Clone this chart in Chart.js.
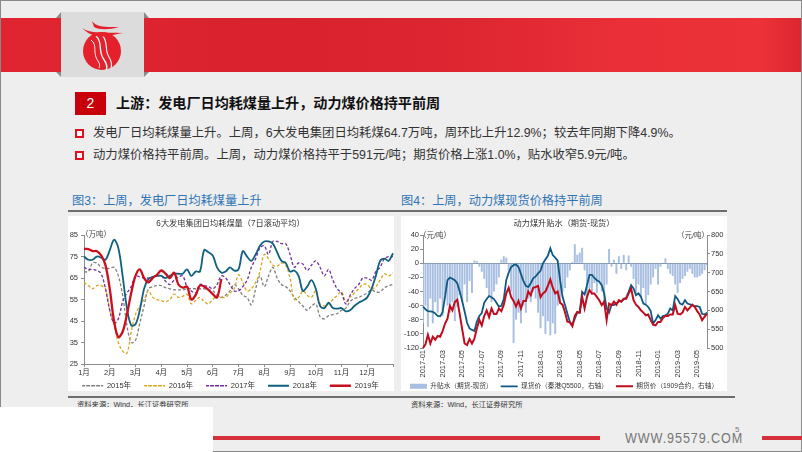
<!DOCTYPE html>
<html lang="zh">
<head>
<meta charset="utf-8">
<title>上游：发电厂日均耗煤量上升</title>
<script src="https://cdn.jsdelivr.net/npm/chart.js@4"></script>
<style>
    html, body { margin: 0; padding: 0; }
    body { width: 802px; height: 452px; overflow: hidden; position: relative; background: #eeeeee; font-family: "Liberation Sans", "Noto Sans CJK SC", sans-serif; }
    .abs { position: absolute; white-space: nowrap; }
    #frame { left: 0; top: 0; width: 800px; height: 450px; border: 1px solid #8a8a8a; }
    #banner { left: 1px; top: 18px; width: 800px; height: 54px; background: linear-gradient(90deg, #e02530 0%, #d9222e 35%, #dc2530 55%, #ea2f38 78%, #ec3238 95%, #dd2530 100%); }
    #logoBox { left: 61px; top: 12px; width: 83px; height: 65px; background: #dcdcdc; }
    #numBox { left: 75px; top: 92px; width: 31px; height: 23px; background: #c8000b; color: #fff; font-size: 14px; line-height: 23px; text-align: center; }
    #heading { left: 116px; top: 93px; font-size: 14.1px; line-height: 20px; font-weight: bold; color: #111; }
    .bullet { left: 75px; width: 5px; height: 5px; border: 2px solid #e2101f; background: #fff; }
    .line1 { left: 93px; font-size: 12.35px; line-height: 18px; color: #333; }
    .caption { font-size: 12.2px; line-height: 16px; color: #2e75b6; top: 193px; }
    .panel { top: 216px; height: 175px; width: 326px; background: #fff; }
    .rule { height: 2px; background: #6e6e6e; }
    .source { font-size: 7.3px; line-height: 10px; color: #333; top: 400px; }
    .unit { font-size: 7.5px; line-height: 10px; color: #444; }
    canvas { display: block; }
</style>
</head>
<body>
<div class="abs" id="frame"></div>
<div class="abs" id="banner"></div>
<svg class="abs" style="left:55px;top:11px" width="95" height="67">
    <polygon points="1,7 6,1 6,7" fill="#8a8a8a"/><polygon points="89,1 94,7 89,7" fill="#8a8a8a"/>
    <polygon points="1,61 6,61 6,66" fill="#8a8a8a"/><polygon points="89,61 94,61 89,66" fill="#8a8a8a"/>
</svg>
<div class="abs" id="logoBox"></div>
<svg class="abs" style="left:61px;top:12px" width="83" height="65">
    <circle cx="41" cy="39" r="19" fill="#e3202b"/>
    <path d="M35 24 C42 30 37 38 42 46 C46 52 47 55 45 58" stroke="#eee" stroke-width="1.4" fill="none"/>
    <path d="M41 23 C48 30 43 38 48 45 C51 50 51 53 50 56" stroke="#eee" stroke-width="1.2" fill="none"/>
    <path d="M30 28 C37 33 31 41 37 49 C39 52 39 54 38 56" stroke="#eee" stroke-width="1" fill="none"/>
    <path d="M21 16 C30 22 42 20 62 21 C50 23 42 26 36 24 C30 23 25 20 21 16 Z" fill="#e3202b"/>
    <path d="M31 9 C36 16 46 15 58 15 C48 18 38 18 33 15 Z" fill="#e3202b"/>
</svg>

<div class="abs" id="numBox">2</div>
<div class="abs" id="heading">上游：发电厂日均耗煤量上升，动力煤价格持平前周</div>
<div class="abs bullet" style="top:129px"></div>
<div class="abs line1" style="top:124px">发电厂日均耗煤量上升。上周，6大发电集团日均耗煤64.7万吨，周环比上升12.9%；较去年同期下降4.9%。</div>
<div class="abs bullet" style="top:151px"></div>
<div class="abs line1" style="top:146px">动力煤价格持平前周。上周，动力煤价格持平于591元/吨；期货价格上涨1.0%，贴水收窄5.9元/吨。</div>

<div class="abs caption" style="left:72px">图3：上周，发电厂日均耗煤量上升</div>
<div class="abs caption" style="left:401px">图4：上周，动力煤现货价格持平前周</div>
<div class="abs rule" style="left:68px;top:210px;width:659px"></div>

<div class="abs panel" style="left:68px"></div>
<div class="abs panel" style="left:401px"></div>
<div class="abs" style="left:68px;top:216px"><canvas id="coalChart" width="334" height="175" style="width:334px;height:175px"></canvas></div>
<div class="abs" style="left:401px;top:216px"><canvas id="basisChart" width="326" height="175" style="width:326px;height:175px"></canvas></div>
<div class="abs unit" style="left:81px;top:230px">（万吨）</div>
<div class="abs unit" style="left:419px;top:231px">（元/吨）</div>
<div class="abs unit" style="left:677px;top:231px">（元/吨）</div>

<div class="abs rule" style="left:68px;top:396px;width:667px"></div>
<div class="abs source" style="left:77px">资料来源：Wind，长江证券研究所</div>
<div class="abs source" style="left:411px">资料来源：Wind，长江证券研究所</div>

<div class="abs" style="left:0;top:407px;width:213px;height:45px;background:#fff"></div>
<div class="abs" style="left:213px;top:436px;width:387px;height:4px;background:#d5303c"></div>
<div class="abs" style="left:762px;top:436px;width:40px;height:4px;background:#d5303c"></div>
<div class="abs" style="left:625px;top:430px;font-size:14px;line-height:16px;letter-spacing:1px;color:#777;transform:scaleX(0.9);transform-origin:left">WWW.95579.COM</div>
<div class="abs" style="left:735px;top:425px;font-size:8px;line-height:10px;color:#777">5</div>

<script>
// 图3 6大发电集团日均耗煤量，每月取6个点
const months = ['1月', '2月', '3月', '4月', '5月', '6月', '7月', '8月', '9月', '10月', '11月', '12月'];
const coalTicks = [25, 35, 45, 55, 65, 75, 85];

const coal2015 = [68, 68, 72, 72, 70, 69.5, 69.5, 70, 66, 57, 43, 35, 36, 44, 52, 60, 61, 61.5, 61.5, 60.5, 60, 59.5, 59.5, 59.5, 60, 60, 60, 60, 60, 59.5, 59, 57, 56, 57, 59, 62,
    60, 57, 56, 52.5, 60, 66, 61, 66, 70, 65, 62, 61, 59, 56, 54, 52, 50, 52, 53, 47, 46, 47.5, 48, 48.5, 50, 51, 54, 55.5, 56, 57, 58, 59.5, 58.5, 58.5, 60.5, 61.5, 62];
const coal2016 = [63, 61.5, 60, 61.5, 61.5, 60, 50, 43, 35, 31, 30, 40, 48, 52, 55, 59, 56, 55, 54.5, 54, 55, 57.5, 56, 56.5, 57.5, 53, 54.5, 56, 54, 53, 55, 56.5, 56, 56, 58, 60,
    66.5, 63, 59, 60, 63, 68, 76, 74, 71, 70.5, 72, 71, 65, 55, 56, 59, 57, 56, 59, 53, 52, 53, 55, 57, 58.5, 54, 56, 58, 60, 62, 62, 60, 61, 64, 67, 66, 67.5];
const coal2017 = [70, 69, 69, 68.5, 67, 60, 50, 44, 46, 54, 58, 61, 66, 65.5, 65, 65, 65.5, 66, 66, 63.5, 62, 64, 65.5, 66, 61, 59, 58, 62, 61.5, 61, 60, 62, 66, 65, 62, 59,
    59, 61, 64, 70, 74, 79, 80, 76, 82, 82, 81, 81, 76, 70, 72, 71.5, 68.5, 71, 73, 70, 66, 69, 64, 60, 58, 53, 57, 60, 62, 65, 65, 64, 68, 70, 74, 75, 75];
const coal2018 = [75, 73.5, 73.5, 75, 74.5, 73.5, 78, 82.8, 79, 66, 51, 43, 43.5, 50, 60, 64.5, 65.5, 66, 66, 65, 66, 67, 67, 67, 69, 66, 68, 68, 78, 77, 75.5, 70, 67.5, 68, 70, 68.5,
    69, 77.5, 75, 73, 76, 80, 82, 82, 81, 77, 73, 72, 68, 68.5, 66, 59, 61, 64, 60, 52, 51, 53.5, 51, 50.8, 51, 49.5, 50, 52, 53.5, 54.5, 56, 60, 66, 73, 74, 73, 76.5];
const coal2019 = [78.5, 78.5, 77.5, 77.5, 75.5, 71, 60, 45, 37.5, 40, 48, 58, 66, 69, 65, 63, 65, 66.5, 68.5, 67, 65, 67.5, 62, 60.5, 61, 55, 57, 61.5, 61, 59.5, 57.5, 56, 64.5];

// 图4 动力煤升贴水，每月取4个点
const basisMonths = ['2017-01', '2017-03', '2017-05', '2017-07', '2017-09', '2017-11', '2018-01', '2018-03', '2018-05', '2018-07', '2018-09', '2018-11', '2019-01', '2019-03', '2019-05'];

const basis = [-85, -60, -90, -50, -85, -55, -70, -50, -75, -45, -60, -70, -55, -82, -62, -45, -55, -30, -55, -25, -42, 4, 3, -5, -12, -22, -35, -48, -55, -40, -30, -20, 5, 10, 8, -10, -40,
    -113, -80, -70, -85, -60, -70, -50, -55, -40, -50, -70, -92, -75, -100, -82, -102, -85, -100, -60, -55, -40, -35, -20, -10, 2, 27, 12, 15, 22, -10, -48, -35, -45, -28, -42, -25, -40, -60, -30,
    20, -5, 5, -15, 10, -8, 12, -10, 11, -5, -22, -42, -30, -48, -35, -58, -45, -30, -20, -8, -30, -5, 1, 7, -8, -15, -18, -30, -42, -28, -22, -18, -12, -8, -15, -20, -20, -18, -15, -10, -3];
const spot = [610, 603, 598, 597, 596, 592, 585, 584, 595, 636, 680, 687, 684, 680, 672, 650, 625, 597, 567, 552, 548, 545, 570, 585, 593, 620, 630, 638, 635, 630, 620, 610, 612, 630, 680, 700, 715,
    720, 722, 715, 697, 678, 665, 662, 672, 685, 690, 698, 705, 725, 735, 745, 765, 747, 740, 732, 680, 636, 614, 591, 569, 562, 578, 594, 594, 649, 642, 667, 694, 694, 686, 680, 676, 667, 645, 605,
    594, 614, 614, 618, 624, 624, 630, 633, 649, 667, 658, 640, 645, 636, 618, 615, 609, 598, 565, 574, 587, 578, 585, 587, 591, 605, 600, 638, 630, 618, 615, 627, 618, 616, 614, 611, 611, 609, 591, 589, 594];
const futures = [500, 510, 535, 512, 530, 522, 532, 530, 545, 565, 578, 612, 600, 622, 628, 590, 550, 512, 508, 524, 512, 525, 552, 575, 560, 585, 600, 582, 605, 590, 590, 605, 598, 615, 645, 660, 635,
    625, 610, 625, 605, 625, 625, 650, 640, 660, 662, 665, 635, 645, 650, 665, 682, 660, 645, 650, 620, 615, 595, 570, 568, 558, 585, 596, 594, 636, 605, 636, 654, 645, 645, 636, 627, 614, 623, 574,
    618, 614, 623, 615, 627, 623, 631, 631, 645, 658, 627, 615, 609, 600, 594, 587, 589, 574, 562, 560, 569, 569, 580, 585, 585, 589, 589, 614, 591, 589, 594, 609, 600, 607, 615, 609, 598, 589, 574, 583, 591];

const coalLabels = [];
for (let i = 0; i <= 72; i++) {
    coalLabels.push(i % 6 === 0 && i < 72 ? months[i / 6] : '');
}
const basisLabels = basis.map((v, i) => (i % 8 === 0 ? basisMonths[i / 8] : ''));

const fontMain = '"Liberation Sans", "Noto Sans CJK SC", sans-serif';
const axisColor = '#8c8c8c';
const textColor = '#333';

function lineSet(label, data, color, width, dash, order, yAxisID) {
    return {
        type: 'line', label, data, borderColor: color, backgroundColor: color, borderWidth: width,
        borderDash: dash, pointRadius: 0, tension: yAxisID ? 0 : 0.35, order, yAxisID: yAxisID || 'y', spanGaps: false
    };
}

function legendItems(chart) {
    return chart.data.datasets.map((d, i) => ({
        text: d.label,
        fillStyle: 'transparent',
        strokeStyle: d.type === 'bar' ? d.backgroundColor : d.borderColor,
        lineWidth: d.type === 'bar' ? 5 : d.borderWidth,
        lineDash: d.borderDash || [],
        fontColor: textColor,
        datasetIndex: i
    }));
}

// labels.padding 同时控制图例项间距和上下留白，这里把上下留白去掉
const tightLegend = {
    id: 'tightLegend',
    beforeLayout(chart) {
        const legend = chart.legend;
        if (legend.tightDone) return;
        legend.tightDone = true;
        const fit = legend.fit;
        legend.fit = function () {
            fit.call(this);
            this.height = chart.options.plugins.tightLegend.height;
        };
    },
    afterLayout(chart) {
        chart.legend.top -= chart.options.plugins.legend.labels.padding;
    }
};

new Chart(document.getElementById('coalChart'), {
    type: 'line',
    data: {
        labels: coalLabels,
        datasets: [
            lineSet('2015年', coal2015, '#7f7f7f', 1.3, [3, 2], 5),
            lineSet('2016年', coal2016, '#dba61f', 1.3, [3, 2], 4),
            lineSet('2017年', coal2017, '#7030a0', 1.3, [3, 2], 3),
            lineSet('2018年', coal2018, '#12607f', 1.8, [], 2),
            lineSet('2019年', coal2019, '#c8101f', 2.3, [], 1)
        ]
    },
    plugins: [tightLegend],
    options: {
        responsive: false,
        animation: false,
        layout: { padding: { right: 9 } },
        plugins: {
            tooltip: { enabled: false },
            tightLegend: { height: 9 },
            title: { display: true, text: '6大发电集团日均耗煤量（7日滚动平均）', color: '#333', font: { family: fontMain, size: 8.2, weight: 'normal' }, padding: { top: 3, bottom: 6.2 } },
            legend: {
                position: 'bottom',
                labels: { boxWidth: 21, boxHeight: 0, padding: 13, font: { family: fontMain, size: 7.5 }, color: textColor, generateLabels: legendItems }
            }
        },
        scales: {
            x: {
                offset: false,
                border: { color: axisColor },
                afterFit: (s) => { s.height = 18; },
                grid: { drawOnChartArea: false, tickLength: 3, tickColor: (c) => (c.index % 6 === 0 ? axisColor : 'transparent') },
                ticks: { autoSkip: false, maxRotation: 0, minRotation: 0, font: { family: fontMain, size: 7.5 }, color: textColor, padding: 1 }
            },
            y: {
                min: 25, max: 85,
                border: { color: axisColor },
                afterFit: (s) => { s.width = 16; },
                afterBuildTicks: (s) => { s.ticks = coalTicks.map((v) => ({ value: v })); },
                grid: { drawOnChartArea: false, tickLength: 3, tickColor: axisColor },
                ticks: { font: { family: fontMain, size: 7.5 }, color: textColor, padding: 3 }
            }
        }
    }
});

new Chart(document.getElementById('basisChart'), {
    data: {
        labels: basisLabels,
        datasets: [
            { type: 'bar', label: '升贴水（期货-现货）', data: basis, backgroundColor: '#a9bfe2', barPercentage: 0.8, categoryPercentage: 1, order: 3, yAxisID: 'y' },
            lineSet('现货价（秦港Q5500，右轴）', spot, '#0f5a85', 1.8, [], 2, 'y1'),
            lineSet('期货价（1909合约，右轴）', futures, '#c00d1e', 2, [], 1, 'y1')
        ]
    },
    plugins: [tightLegend],
    options: {
        responsive: false,
        animation: false,
        plugins: {
            tooltip: { enabled: false },
            tightLegend: { height: 8 },
            title: { display: true, text: '动力煤升贴水（期货-现货）', color: '#333', font: { family: fontMain, size: 8.2, weight: 'normal' }, padding: { top: 3, bottom: 6.2 } },
            legend: {
                position: 'bottom',
                labels: { boxWidth: 17, boxHeight: 0, padding: 8, font: { family: fontMain, size: 6.7 }, color: textColor, generateLabels: legendItems }
            }
        },
        scales: {
            x: {
                offset: false,
                border: { display: false },
                afterFit: (s) => { s.height = 35; },
                grid: { display: false, drawTicks: false },
                ticks: { autoSkip: false, maxRotation: 90, minRotation: 90, font: { family: fontMain, size: 7.5 }, color: textColor, padding: 2 }
            },
            y: {
                min: -120, max: 40,
                border: { color: axisColor },
                afterFit: (s) => { s.width = 22; },
                grid: { color: (c) => (c.tick && c.tick.value === 0 ? '#8496b0' : 'transparent'), tickLength: 3, tickColor: axisColor },
                ticks: { stepSize: 20, font: { family: fontMain, size: 7.5 }, color: textColor, padding: 1 }
            },
            y1: {
                position: 'right',
                min: 500, max: 800,
                border: { color: axisColor },
                afterFit: (s) => { s.width = 20; },
                grid: { drawOnChartArea: false, tickLength: 3, tickColor: axisColor },
                ticks: { stepSize: 50, font: { family: fontMain, size: 7.5 }, color: textColor, padding: 1 }
            }
        }
    }
});
</script>
</body>
</html>
